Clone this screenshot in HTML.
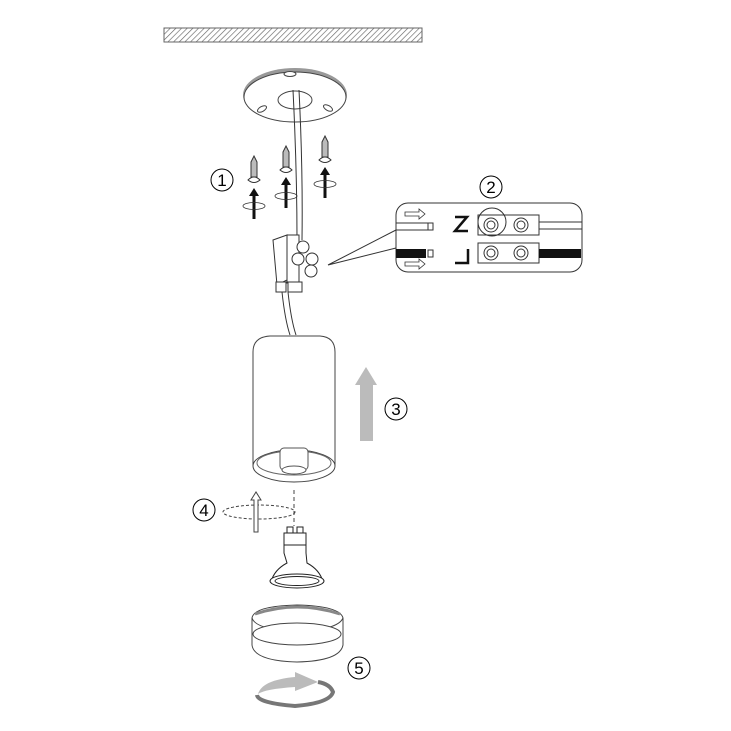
<!DOCTYPE html>
<html><head><style>body{margin:0;background:#fff}svg{display:block}text{font-family:"Liberation Sans",sans-serif}</style></head><body>
<svg width="731" height="731" viewBox="0 0 731 731" xmlns="http://www.w3.org/2000/svg">
<defs>
<pattern id="h" width="4" height="4" patternUnits="userSpaceOnUse" patternTransform="rotate(45)"><rect width="4" height="4" fill="#fff"/><line x1="0" y1="0" x2="0" y2="4" stroke="#666" stroke-width="1.3"/></pattern>
</defs>
<rect x="164" y="28" width="258" height="14" fill="url(#h)" stroke="#666"/>
<g fill="#fff" stroke="#444" stroke-width="1">
<ellipse cx="295" cy="95" rx="52" ry="27" fill="#999" stroke="none"/>
<ellipse cx="295" cy="97" rx="51" ry="25"/>
<ellipse cx="290" cy="74" rx="6" ry="2.5"/>
<ellipse cx="295" cy="100" rx="17" ry="9"/>
<ellipse cx="262" cy="109" rx="5" ry="2.5" transform="rotate(-30 262 109)"/>
<ellipse cx="328" cy="108" rx="5" ry="2.5" transform="rotate(30 328 108)"/>
</g>
<path d="M293 90 Q297 170 297 240 M299 90 Q303 170 302 240" stroke="#333" fill="none"/>
<path d="M282 292 Q285 320 290 335 M288 292 Q291 320 296 335" stroke="#333" fill="none"/>
<g stroke="#333" fill="#bbb">
<path d="M254 156 l3 6 v15 h-6 v-15z"/><path d="M248 180 q6 -6 12 0 q-6 5 -12 0z" fill="#fff"/>
<path d="M286 146 l3 6 v15 h-6 v-15z"/><path d="M280 170 q6 -6 12 0 q-6 5 -12 0z" fill="#fff"/>
<path d="M325 136 l3 6 v15 h-6 v-15z"/><path d="M319 160 q6 -6 12 0 q-6 5 -12 0z" fill="#fff"/>
</g>
<g fill="#111">
<rect x="252.5" y="195" width="3" height="24"/><path d="M249 196 l5 -8 l5 8z"/>
<rect x="284.5" y="184" width="3" height="24"/><path d="M281 185 l5 -8 l5 8z"/>
<rect x="323.5" y="174" width="3" height="24"/><path d="M320 175 l5 -8 l5 8z"/>
</g>
<g fill="none" stroke="#333" stroke-width="0.8">
<ellipse cx="254" cy="206" rx="11" ry="3.5"/><ellipse cx="286" cy="196" rx="11" ry="3.5"/><ellipse cx="325" cy="184" rx="11" ry="3.5"/>
</g>
<g fill="none" stroke="#000"><circle cx="222" cy="180" r="11"/><circle cx="491" cy="187" r="11"/><circle cx="396" cy="409" r="11"/><circle cx="204" cy="510" r="11"/><circle cx="359" cy="668" r="11"/></g>
<g font-size="17" text-anchor="middle"><text x="222" y="186">1</text><text x="491" y="193">2</text><text x="396" y="415">3</text><text x="204" y="516">4</text><text x="359" y="674">5</text></g>
<g stroke="#333" fill="#fff">
<path d="M273 240 l14 -5 v45 l-10 5z"/>
<path d="M287 235 h12 v48 h-12z"/>
<circle cx="303" cy="247" r="6"/><circle cx="298" cy="259" r="6"/><circle cx="312" cy="259" r="6"/><circle cx="311" cy="271" r="6"/>
<rect x="276" y="282" width="10" height="10"/><rect x="288" y="282" width="14" height="10"/>
</g>
<path d="M328 265 L396 230 M328 265 L396 248" stroke="#333" fill="none"/>
<rect x="396" y="203" width="186" height="69" rx="12" fill="#fff" stroke="#333"/>
<line x1="396" y1="223" x2="428" y2="223" stroke="#333"/><line x1="396" y1="230" x2="428" y2="230" stroke="#333"/>
<rect x="428" y="223" width="5" height="7" fill="#fff" stroke="#333"/>
<rect x="396" y="249" width="30" height="9" fill="#111"/><rect x="428" y="250" width="5" height="7" fill="#fff" stroke="#333"/>
<path d="M405 212 h14 v-3 l6 5 l-6 5 v-3 h-14z M405 262 h14 v-3 l6 5 l-6 5 v-3 h-14z" fill="#fff" stroke="#333" stroke-width="0.8"/>
<path d="M455 217 l12 0 l-12 14 h13" fill="none" stroke="#111" stroke-width="2.5"/>
<path d="M455 263 h13 v-14" fill="none" stroke="#111" stroke-width="2.5"/>
<rect x="478" y="215" width="61" height="20" fill="#fff" stroke="#333"/>
<rect x="478" y="243" width="61" height="20" fill="#fff" stroke="#333"/>
<g fill="none" stroke="#333"><circle cx="491" cy="225" r="7"/><circle cx="491" cy="225" r="4"/><circle cx="521" cy="225" r="7"/><circle cx="521" cy="225" r="4"/><circle cx="491" cy="253" r="7"/><circle cx="491" cy="253" r="4"/><circle cx="521" cy="253" r="7"/><circle cx="521" cy="253" r="4"/><circle cx="492" cy="222" r="14"/></g>
<line x1="539" y1="222" x2="582" y2="222" stroke="#333"/><line x1="539" y1="229" x2="582" y2="229" stroke="#333"/>
<path d="M539 249 h42 v9 h-42z" fill="#111"/>
<path d="M253 466 V352 Q253 337 270 336 H320 Q335 337 335 352 V466" fill="#fff" stroke="#444"/>
<ellipse cx="294" cy="466" rx="41" ry="16" fill="#fff" stroke="#444"/>
<ellipse cx="294" cy="463" rx="37" ry="12" fill="#fff" stroke="#666"/>
<rect x="280" y="448" width="28" height="22" rx="4" fill="#fff" stroke="#555"/>
<ellipse cx="294" cy="470" rx="12" ry="4" fill="#fff" stroke="#555"/>
<rect x="360" y="383" width="13" height="58" fill="#bbb"/><path d="M355 385 l11 -18 l11 18z" fill="#bbb"/>
<line x1="294" y1="490" x2="294" y2="526" stroke="#444" stroke-dasharray="4 3"/>
<ellipse cx="259" cy="512" rx="36" ry="7" fill="none" stroke="#444" stroke-dasharray="3 2"/>
<path d="M254 532 V500 h-3 l5 -8 l5 8 h-3 V532z" fill="#fff" stroke="#444"/>
<g fill="#fff" stroke="#222">
<rect x="287" y="527" width="6" height="6"/><rect x="297" y="527" width="6" height="6"/>
<path d="M284 533 h22 v20 l1 10 Q320 570 323 582 H271 Q274 570 287 563 l-3 -10z"/>
<line x1="284" y1="545" x2="306" y2="545"/>
<ellipse cx="297" cy="581" rx="27" ry="7"/><ellipse cx="297" cy="581" rx="22" ry="4.5"/>
</g>
<g fill="#fff" stroke="#444">
<path d="M252 618 Q254 606 297 605 Q340 606 343 618 V645 Q340 661 297 662 Q254 661 252 645z"/>
<path d="M252 618 Q256 630 297 631 Q338 630 343 618" fill="none"/>
<ellipse cx="297" cy="634" rx="44" ry="11"/>
</g>
<path d="M255 614 Q297 600 340 614" fill="none" stroke="#888" stroke-width="3"/>
<path d="M258 694 Q262 680 295 677 V672 L318 682 L295 691 V687 Q265 689 258 694z" fill="#bbb"/>
<path d="M318 682 Q330 684 333 692 Q330 703 295 706 Q258 703 257 695" fill="none" stroke="#777" stroke-width="4"/>
</svg>
</body></html>
